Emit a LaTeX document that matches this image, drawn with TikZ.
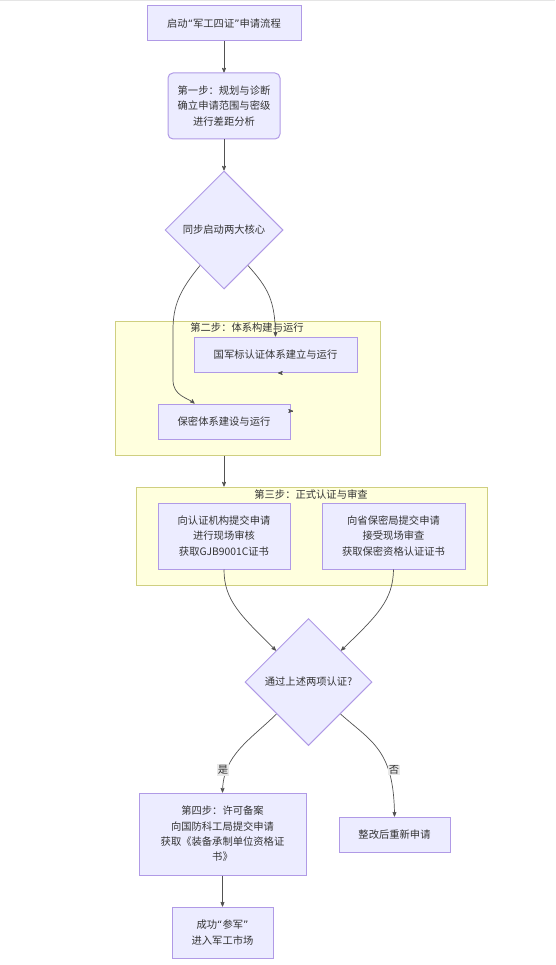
\documentclass[tikz,border=0pt]{standalone}
\usepackage{fontspec}
\setmainfont{Noto Sans CJK SC}
\newfontfamily\quotefont{DejaVu Sans}
\newcommand{\oq}{{\quotefont “}}
\newcommand{\cq}{{\quotefont ”}}
\usepackage{xcolor}
\usepackage{tikz}
\usetikzlibrary{calc}
\usetikzlibrary{arrows}
\usetikzlibrary{shapes.geometric}
\definecolor{boxfill}{HTML}{ECECFF}
\definecolor{boxline}{HTML}{B09AE6}
\definecolor{sgfill}{HTML}{FFFFDE}
\definecolor{sgline}{HTML}{CFCF80}
\definecolor{ink}{HTML}{333333}
\tikzset{
  box/.style={draw=boxline, fill=boxfill, line width=1, align=center, inner sep=0, text=ink,
    font=\fontsize{10.3}{15.3}\selectfont},
  decision/.style={box, diamond, aspect=1},
  cluster/.style={draw=sgline, fill=sgfill, line width=1, inner sep=0},
  sglabel/.style={text=ink, inner sep=0, font=\fontsize{10.3}{15.3}\selectfont},
  edge/.style={draw=ink!85, line width=.7, ->, >=stealth'},
  elabel/.style={fill=black!9, text=ink, inner sep=1, font=\fontsize{10.3}{12}\selectfont}
}

\begin{document}
\begin{tikzpicture}[x=1pt, y=-1pt]
\useasboundingbox (0,0) rectangle (555,965);
\draw[black!10, line width=1.5] (0,.5)--(555,.5);

\node[box, minimum width=154, minimum height=35] (start) at (224,23.5) {启动\oq 军工四证\cq 申请流程};
\node[box, rounded corners=5, minimum width=112, minimum height=66] (step1) at (224,106)
  {第一步：规划与诊断\\确立申请范围与密级\\进行差距分析};
\node[decision, minimum size=118] (sync) at (224,230) {同步启动两大核心};

\node[cluster, minimum width=265, minimum height=134] (sg1) at (247.5,388) {};
\node[sglabel] (sg1t) at (247,328) {第二步：体系构建与运行};
\node[box, minimum width=163, minimum height=35] (gjb) at (275.5,354.5) {国军标认证体系建立与运行};
\node[box, minimum width=132, minimum height=35] (sec) at (224,421.5) {保密体系建设与运行};

\node[cluster, minimum width=351, minimum height=98] (sg2) at (311.5,536) {};
\node[sglabel] (sg2t) at (311,495) {第三步：正式认证与审查};
\node[box, minimum width=132, minimum height=66] (cert) at (224,536)
  {向认证机构提交申请\\进行现场审核\\获取GJB9001C证书};
\node[box, minimum width=143, minimum height=66] (conf) at (393.5,536)
  {向省保密局提交申请\\接受现场审查\\获取保密资格认证证书};

\node[decision, minimum size=127] (pass) at (308.5,682) {通过上述两项认证?};
\node[box, minimum width=167, minimum height=82] (step4) at (222.5,834)
  {第四步：许可备案\\向国防科工局提交申请\\获取《装备承制单位资格证\\书》};
\node[box, minimum width=111, minimum height=35] (redo) at (394.5,834.5) {整改后重新申请};
\node[box, minimum width=101, minimum height=51] (done) at (222.5,932.5) {成功\oq 参军\cq\\进入军工市场};

\coordinate (tipa) at (278,373);
\coordinate (tipb) at (293,411);

\draw[edge] (start)--(step1);
\draw[edge] (step1)--(sync);
\draw[edge] (sync.-56) .. controls (268,288) and (275,300) .. (gjb.north);
\draw[edge] (sync.-124) .. controls (180,290) and (173,305) .. (173,330)--(173,380)
  .. controls (173,396) and (188,398) .. ([xshift=37]sec.north west);
\draw[edge] ([xshift=1]tipa)--(tipa);
\draw[edge] ([xshift=-1]tipb)--(tipb);
\draw[edge] (sec |- sg1.south)--(sec |- sg2.north);
\draw[edge] (cert.south) .. controls (224,600) and (240,615) .. (pass.136);
\draw[edge] (conf.south) .. controls (393,600) and (378,615) .. (pass.44);
\draw[edge] (pass.-135) .. controls (250,740) and (223,755) .. (step4.north);
\draw[edge] (pass.-45) .. controls (372,742) and (394,750) .. (redo.north);
\draw[edge] (step4)--(done);

\node[elabel] (yes) at (223,770) {是};
\node[elabel] (no) at (394,770) {否};
\end{tikzpicture}
\end{document}
